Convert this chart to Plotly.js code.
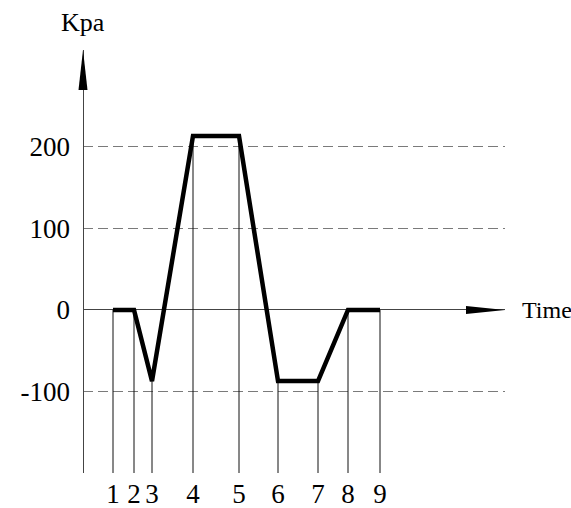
<!DOCTYPE html>
<html>
<head>
<meta charset="utf-8">
<script src="https://cdn.plot.ly/plotly-3.0.1.min.js"></script>
<style>html,body{margin:0;padding:0;background:#fff;}#chart{width:571px;height:508px;}</style>
</head>
<body>
<div id="chart"></div>
<script>
// Time positions of the profile points (arbitrary time units)
var timePoints = [0.75, 1.275, 1.725, 2.75, 3.9, 4.875, 5.875, 6.625, 7.425];
// Pressure at each point (kPa)
var pressure = [0, 0, -87, 213, 213, -87, -87, 0, 0];
// Point labels shown under the axis
var pointLabels = ['1', '2', '3', '4', '5', '6', '7', '8', '9'];
// Y tick values / labels
var yTickVals = [-100, 0, 100, 200];
var yTickText = ['-100', '0', '100', '200'];

var xRange = [0, 10.55];
var yRange = [-199.5, 318.2];

// vertical drop lines from each point to the bottom
var dropX = [], dropY = [];
for (var i = 0; i < timePoints.length; i++) {
  dropX.push(timePoints[i], timePoints[i], null);
  dropY.push(pressure[i], yRange[0], null);
}

var FONT = 'Liberation Serif';

var traces = [
  {x: dropX, y: dropY, mode: 'lines', line: {color: '#111', width: 1}, hoverinfo: 'skip', showlegend: false},
  {x: timePoints, y: pressure, mode: 'lines', line: {color: '#000', width: 4.5}, showlegend: false}
];

var layout = {
  width: 571, height: 508,
  margin: {l: 83, r: 66, t: 50, b: 35},
  paper_bgcolor: '#fff', plot_bgcolor: '#fff',
  showlegend: false,
  xaxis: {
    range: xRange, tickvals: timePoints, ticktext: pointLabels,
    showgrid: false, showline: false, zeroline: true, zerolinecolor: '#444', zerolinewidth: 1,
    ticks: '', ticklabelstandoff: 2,
    tickfont: {family: FONT, size: 27, color: '#000'}, automargin: false, fixedrange: true
  },
  yaxis: {
    range: yRange, tickvals: yTickVals, ticktext: yTickText,
    showgrid: true, gridcolor: '#7a7a7a', gridwidth: 1.5, griddash: '10px,5px',
    zeroline: true, zerolinecolor: '#444', zerolinewidth: 1, showline: false,
    ticks: '', ticklabelstandoff: 12,
    tickfont: {family: FONT, size: 27, color: '#000'}, automargin: false, fixedrange: true
  },
  shapes: [
    {type: 'path', xref: 'paper', yref: 'paper', path: 'M 0 1 L -0.0107 0.9054 L 0.0107 0.9054 Z', fillcolor: '#000', line: {width: 0}},
    {type: 'path', xref: 'paper', yref: 'y', path: 'M 1 0 L 0.9076 4.9 L 0.9076 -4.9 Z', fillcolor: '#000', line: {width: 0}}
  ],
  annotations: [
    {text: 'Kpa', xref: 'paper', yref: 'paper', x: 0, y: 1, xanchor: 'center', yanchor: 'middle', yshift: 28, showarrow: false, font: {family: FONT, size: 26, color: '#000'}},
    {text: 'Time', xref: 'paper', yref: 'y', x: 1, y: 0, xanchor: 'left', yanchor: 'middle', xshift: 15, showarrow: false, font: {family: FONT, size: 24, color: '#000'}}
  ]
};

Plotly.newPlot('chart', traces, layout, {displayModeBar: false, staticPlot: true});
</script>
</body>
</html>
